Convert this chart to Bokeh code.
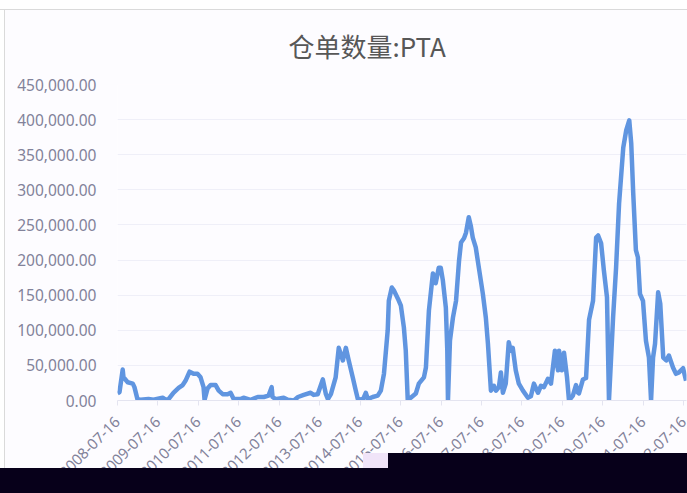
import math
from datetime import datetime
import pandas as pd
from bokeh.plotting import figure
from bokeh.layouts import column
from bokeh.models import (Range1d, FixedTicker, NumeralTickFormatter,
                          DatetimeTickFormatter, ColumnDataSource, Div)
from bokeh.embed import file_html
from bokeh.resources import INLINE

title_text = "仓单数量:PTA"

dates = [
    "2008-07-16", "2008-08-03", "2008-09-01", "2008-09-08", "2008-10-16", "2008-12-01",
    "2008-12-16", "2009-01-12", "2009-02-08", "2009-04-22", "2009-06-06", "2009-08-28",
    "2009-09-25", "2009-10-20", "2009-12-03", "2010-01-19", "2010-02-25", "2010-03-22",
    "2010-04-28", "2010-06-03", "2010-07-08", "2010-08-05", "2010-09-01", "2010-09-10",
    "2010-10-07", "2010-11-04", "2010-12-19", "2011-01-16", "2011-02-21", "2011-04-06",
    "2011-05-03", "2011-05-31", "2011-08-01", "2011-08-28", "2011-10-31", "2012-01-03",
    "2012-02-27", "2012-04-10", "2012-05-08", "2012-05-16", "2012-06-13", "2012-08-25",
    "2012-10-01", "2012-11-25", "2013-01-01", "2013-02-22", "2013-04-25", "2013-05-22",
    "2013-06-28", "2013-08-13", "2013-09-10", "2013-09-28", "2013-10-25", "2013-12-07",
    "2014-01-04", "2014-02-10", "2014-03-09", "2014-04-04", "2014-05-10", "2014-06-07",
    "2014-06-25", "2014-08-09", "2014-09-05", "2014-09-24", "2014-11-06", "2014-12-22",
    "2015-01-19", "2015-02-16", "2015-03-22", "2015-04-01", "2015-04-28", "2015-05-16",
    "2015-06-22", "2015-07-19", "2015-08-15", "2015-09-01", "2015-09-19", "2015-10-16",
    "2015-12-01", "2015-12-28", "2016-02-12", "2016-03-01", "2016-03-28", "2016-05-03",
    "2016-05-28", "2016-06-25", "2016-07-13", "2016-08-01", "2016-08-28", "2016-09-10",
    "2016-09-16", "2016-10-04", "2016-10-31", "2016-11-28", "2016-12-25", "2017-01-12",
    "2017-02-08", "2017-02-26", "2017-03-23", "2017-04-10", "2017-04-28", "2017-05-25",
    "2017-06-22", "2017-07-28", "2017-08-24", "2017-09-12", "2017-10-09", "2017-11-05",
    "2017-11-23", "2017-12-20", "2018-01-07", "2018-01-25", "2018-02-20", "2018-03-19",
    "2018-04-06", "2018-04-24", "2018-05-21", "2018-06-18", "2018-07-25", "2018-09-08",
    "2018-10-05", "2018-11-01", "2018-12-08", "2019-01-04", "2019-01-31", "2019-03-08",
    "2019-04-04", "2019-05-10", "2019-06-07", "2019-06-16", "2019-07-13", "2019-07-31",
    "2019-08-27", "2019-09-14", "2019-10-19", "2019-11-16", "2019-12-04", "2019-12-13",
    "2020-01-18", "2020-02-15", "2020-03-13", "2020-04-18", "2020-05-16", "2020-06-03",
    "2020-06-30", "2020-07-25", "2020-08-22", "2020-09-09", "2020-10-16", "2020-11-12",
    "2020-12-09", "2021-01-16", "2021-02-12", "2021-03-11", "2021-03-29", "2021-04-16",
    "2021-05-10", "2021-05-28", "2021-06-16", "2021-07-13", "2021-08-09", "2021-09-05",
    "2021-09-24", "2021-10-12", "2021-10-30", "2021-11-27", "2021-12-16", "2022-01-12",
    "2022-02-08", "2022-03-04", "2022-04-10", "2022-05-07", "2022-06-03", "2022-07-10",
    "2022-08-06",
]

values = [
    10000, 12000, 44000, 33000, 26000, 24000,
    19000, 2000, 1000, 2000, 1000, 4000,
    1000, 2000, 11000, 18000, 22000, 28000,
    41000, 38000, 38000, 33000, 19000, 1000,
    17000, 22000, 22000, 14000, 9000, 9000,
    11000, 2000, 2000, 4000, 1000, 5000,
    5000, 7000, 19000, 5000, 2000, 4000,
    1000, 0, 5000, 8000, 11000, 8000,
    9000, 30000, 9000, 2000, 9000, 33000,
    75000, 57000, 75000, 57000, 33000, 14000,
    2000, 1000, 11000, 2000, 5000, 7000,
    14000, 38000, 100000, 142000, 161000, 157000,
    145000, 135000, 104000, 71000, 0, 4000,
    10000, 24000, 33000, 47000, 128000, 181000,
    167000, 189000, 189000, 171000, 132000, 71000,
    0, 85000, 118000, 142000, 199000, 225000,
    231000, 239000, 261000, 249000, 232000, 218000,
    189000, 152000, 118000, 81000, 14000, 21000,
    14000, 19000, 40000, 11000, 24000, 83000,
    71000, 75000, 43000, 24000, 14000, 4000,
    6000, 24000, 11000, 21000, 19000, 31000,
    24000, 71000, 43000, 71000, 43000, 68000,
    33000, 0, 7000, 22000, 11000, 10000,
    30000, 32000, 115000, 142000, 232000, 235000,
    224000, 185000, 147000, 0, 118000, 189000,
    280000, 360000, 385000, 399000, 366000, 295000,
    214000, 204000, 152000, 142000, 85000, 61000,
    0, 61000, 81000, 154000, 138000, 61000,
    57000, 64000, 47000, 38000, 40000, 46000,
    28000,
]

tick_years = list(range(2008, 2023))
y_ticks = [0, 50000, 100000, 150000, 200000, 250000, 300000, 350000, 400000, 450000]

source = ColumnDataSource(data=dict(x=pd.to_datetime(dates), y=values))

p = figure(width=687, height=493, x_axis_type="datetime",
           output_backend="svg", toolbar_location=None,
           x_range=Range1d(datetime(2008, 7, 16), datetime(2022, 8, 10)),
           y_range=Range1d(0, 450000),
           min_border_left=117, min_border_right=1,
           min_border_top=84, min_border_bottom=93)

bg = "#fdfcff"
p.background_fill_color = bg
p.border_fill_color = bg
p.outline_line_color = None

p.title.text = title_text
p.title.align = "left"
p.title.offset = 171
p.title.standoff = 42
p.title.text_font = "Noto Sans CJK SC"
p.title.text_font_size = "26px"
p.title.text_font_style = "normal"
p.title.text_color = "#575757"

p.line("x", "y", source=source, line_color="#6095e0", line_width=4.5,
       line_join="round")

# y axis
p.yaxis.ticker = FixedTicker(ticks=y_ticks)
p.yaxis.formatter = NumeralTickFormatter(format="0,0.00")
p.yaxis.axis_line_color = None
p.yaxis.major_tick_line_color = None
p.yaxis.minor_tick_line_color = None
p.yaxis.major_label_standoff = 15
p.yaxis.major_label_text_font = "Noto Sans"
p.yaxis.major_label_text_font_size = "15.5px"
p.yaxis.major_label_text_color = "#82829a"

# x axis
tick_ms = [pd.Timestamp(f"{yr}-07-16").value // 10**6 for yr in tick_years]
p.xaxis.ticker = FixedTicker(ticks=tick_ms)
fmt = "%Y-%m-%d"
p.xaxis.formatter = DatetimeTickFormatter(
    milliseconds=fmt, seconds=fmt, minsec=fmt, minutes=fmt, hourmin=fmt,
    hours=fmt, days=fmt, months=fmt, years=fmt)
p.xaxis.major_label_orientation = math.pi / 4
p.xaxis.axis_line_color = "#e4e4f0"
p.xaxis.major_tick_line_color = "#e4e4f0"
p.xaxis.major_tick_out = 5
p.xaxis.major_tick_in = 0
p.xaxis.minor_tick_line_color = None
p.xaxis.major_label_standoff = 14
p.xaxis.major_label_text_font = "Noto Sans"
p.xaxis.major_label_text_font_size = "15px"
p.xaxis.major_label_text_color = "#82829a"

p.xgrid.grid_line_color = None
p.ygrid.grid_line_color = "#efeff8"
p.ygrid.grid_line_width = 1

# page decorations seen in the reference picture (overlays on the chart)
band = Div(text="", width=687, height=25, margin=(-25, 0, 0, 0),
           styles={"background-color": "#07001a"})
band_top = Div(text="", width=299, height=15, margin=(-40, 0, 0, 388),
               styles={"background-color": "#07001a"})
blob = Div(text="", width=25, height=15, margin=(-15, 0, 0, 363),
           styles={"background-color": "#f0e4f8"})
top_strip = Div(text="", width=687, height=10, margin=(-468, 0, 0, 0),
                styles={"background-color": "#ffffff",
                        "border-bottom": "1px solid #dadada",
                        "box-sizing": "border-box"})
left_strip = Div(text="", width=5, height=458, margin=(0, 0, 0, 0),
                 styles={"background-color": "#ffffff",
                         "border-right": "1px solid #dadada",
                         "box-sizing": "border-box"})

layout = column(p, band, band_top, blob, top_strip, left_strip, spacing=0)

open("out.html", "w").write(file_html(layout, INLINE))
